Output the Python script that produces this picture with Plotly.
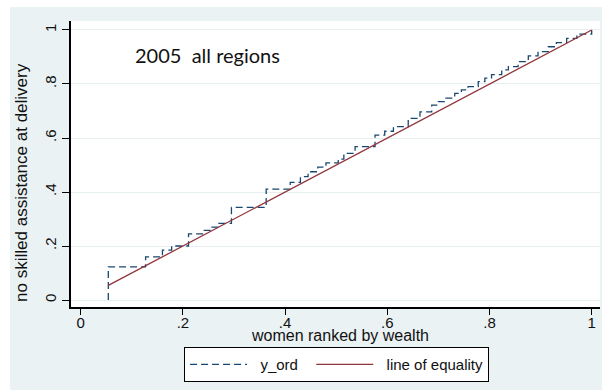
import plotly.graph_objects as go

# ---- data ----
rank_steps = [0.054, 0.054, 0.127, 0.160, 0.178, 0.211, 0.240, 0.255, 0.270, 0.295,
              0.363, 0.410, 0.430, 0.445, 0.464, 0.480, 0.504, 0.515, 0.537, 0.576,
              0.595, 0.612, 0.641, 0.664, 0.687, 0.700, 0.713, 0.732, 0.745, 0.758,
              0.778, 0.791, 0.804, 0.824, 0.837, 0.856, 0.876, 0.895, 0.915, 0.931,
              0.951, 0.971, 1.000]
y_ord = [0.000, 0.123, 0.160, 0.185, 0.200, 0.245, 0.258, 0.270, 0.284, 0.343,
         0.411, 0.436, 0.457, 0.475, 0.492, 0.508, 0.522, 0.543, 0.568, 0.611,
         0.625, 0.642, 0.673, 0.697, 0.722, 0.735, 0.748, 0.765, 0.778, 0.790,
         0.809, 0.822, 0.835, 0.852, 0.864, 0.883, 0.904, 0.920, 0.938, 0.953,
         0.969, 0.985, 1.000]
equality_x = [0.054, 1.0]
equality_y = [0.054, 1.0]

tick_vals = [0, 0.2, 0.4, 0.6, 0.8, 1.0]
tick_text = ["0", ".2", ".4", ".6", ".8", "1"]

FONT = "Liberation Sans, Arial, sans-serif"
BG = "#eaf2f3"
NB = "\u00a0"

fig = go.Figure()
fig.add_trace(go.Scatter(x=rank_steps, y=y_ord, mode="lines", name=NB * 2 + "y_ord" + NB * 2,
                         line=dict(color="#1a476f", width=1.3, dash="7px,4px", shape="hv")))
fig.add_trace(go.Scatter(x=equality_x, y=equality_y, mode="lines", name=NB * 2 + "line of equality",
                         line=dict(color="#90353b", width=1.3)))

fig.update_layout(
    width=602, height=390,
    margin=dict(l=71, r=2, t=21, b=83),
    paper_bgcolor="white",
    plot_bgcolor="white",
    font=dict(family=FONT, size=15, color="#111111"),
    showlegend=True,
    legend=dict(orientation="h", x=0.502, xanchor="center", y=-0.14, yanchor="top",
                bordercolor="black", borderwidth=1, bgcolor="white",
                font=dict(family=FONT, size=15), itemwidth=57,
                tracegroupgap=0),
    xaxis=dict(range=[-0.019, 1.0163], tickvals=tick_vals, ticktext=tick_text,
               showgrid=False, zeroline=False, showline=True, linecolor="black",
               linewidth=1.5, ticks="outside", ticklen=6, tickcolor="black",
               ticklabelstandoff=-5,
               tickfont=dict(family=FONT, size=15)),
    yaxis=dict(range=[-0.0259, 1.0333], tickvals=tick_vals, ticktext=tick_text,
               showgrid=True, gridcolor="#e6eef0", gridwidth=1,
               zeroline=False, showline=True, linecolor="black", linewidth=1.5,
               ticks="outside", ticklen=7, tickcolor="black", tickangle=-90,
               tickfont=dict(family=FONT, size=15)),
    shapes=[
        dict(type="rect", xref="paper", yref="paper", x0=-0.1153, x1=1.01, y0=-0.3, y1=1.049,
             fillcolor=BG, line=dict(width=0), layer="below"),
        dict(type="rect", xref="paper", yref="paper", x0=0, x1=1, y0=0, y1=1,
             fillcolor="white", line=dict(width=0), layer="below"),
    ],
    annotations=[
        dict(text="2005\u00a0 all regions", x=0.102, y=0.907, xref="x", yref="y",
             xanchor="left", yanchor="middle", showarrow=False,
             font=dict(family="Lato, sans-serif", size=20, color="#111111")),
        dict(text="women ranked by wealth", x=0.508, y=-0.098, xref="paper", yref="paper",
             xanchor="center", yanchor="middle", showarrow=False,
             font=dict(family=FONT, size=16)),
        dict(text="no skilled assistance at delivery", x=-0.0926, y=0.434,
             xref="paper", yref="paper", xanchor="center", yanchor="middle",
             textangle=-90, showarrow=False, font=dict(family=FONT, size=17)),
    ],
)

fig.write_html("out.html", config={"displayModeBar": False},
               post_script="document.body.style.margin='0';")
